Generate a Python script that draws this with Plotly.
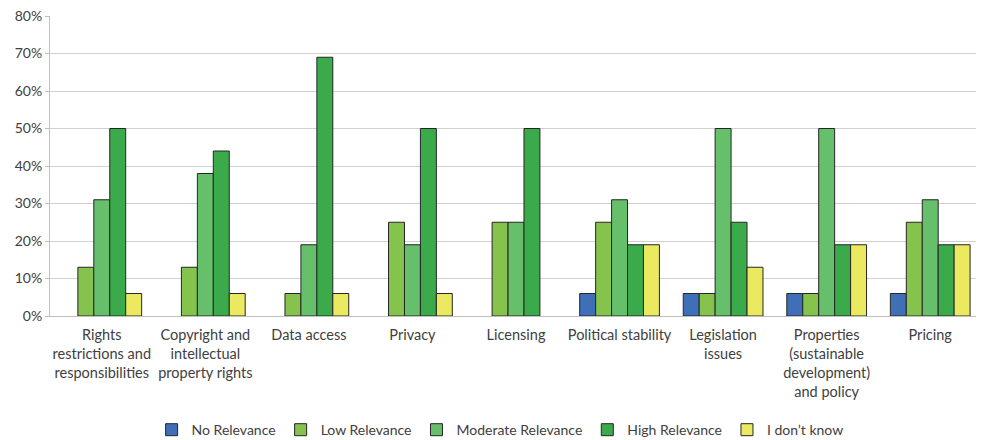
import plotly.graph_objects as go

categories = [
    "Rights<br>restrictions and<br>responsibilities",
    "Copyright and<br>intellectual<br>property rights",
    "Data access",
    "Privacy",
    "Licensing",
    "Political stability",
    "Legislation<br>issues",
    "Properties<br>(sustainable<br>development)<br>and policy",
    "Pricing",
]
no_relevance = [0, 0, 0, 0, 0, 6, 6, 6, 6]
low_relevance = [13, 13, 6, 25, 25, 25, 6, 6, 25]
moderate_relevance = [31, 38, 19, 19, 25, 31, 50, 50, 31]
high_relevance = [50, 44, 69, 50, 50, 19, 25, 19, 19]
dont_know = [6, 6, 6, 6, 0, 19, 13, 19, 19]

series = [
    ("No Relevance", no_relevance, "#3E6FB7"),
    ("Low Relevance", low_relevance, "#85C34D"),
    ("Moderate Relevance", moderate_relevance, "#65BF6B"),
    ("High Relevance", high_relevance, "#3BAA4A"),
    ("I don’t know", dont_know, "#EBE95F"),
]

fig = go.Figure()
for name, vals, color in series:
    fig.add_trace(go.Bar(
        x=categories,
        y=[v / 100 if v else None for v in vals],
        name=name,
        marker=dict(color=color, line=dict(color="#262626", width=1)),
    ))

font = "Lato, 'Open Sans', sans-serif"
# page body has an 8px default margin, so the figure is sized/offset to compensate
fig.update_layout(
    width=976, height=432,
    margin=dict(l=42, r=2, t=8, b=124, autoexpand=False),
    paper_bgcolor="white", plot_bgcolor="white",
    barmode="group", bargap=0.23, bargroupgap=0,
    font=dict(family=font, size=14, color="#404040"),
    showlegend=True,
    legend=dict(orientation="h", x=0.109, xanchor="left", y=-0.327, yanchor="top",
                font=dict(size=14, color="#404040"), itemwidth=30,
                traceorder="normal"),
    xaxis=dict(showline=True, linecolor="#BFBFBF", linewidth=1, ticks="",
               automargin=False, ticklabelstandoff=6,
               tickfont=dict(size=14.5, color="#404040"), tickangle=0),
    yaxis=dict(range=[0, 0.8], dtick=0.1, tickformat=".0%", showgrid=True,
               automargin=False, ticklabeloverflow="allow",
               gridcolor="#D0D0D0", gridwidth=1, showline=True, linecolor="#BFBFBF",
               ticks="outside", ticklen=4, tickcolor="#BFBFBF", zeroline=False,
               tickfont=dict(size=14, color="#404040")),
)

fig.write_html("out.html")
